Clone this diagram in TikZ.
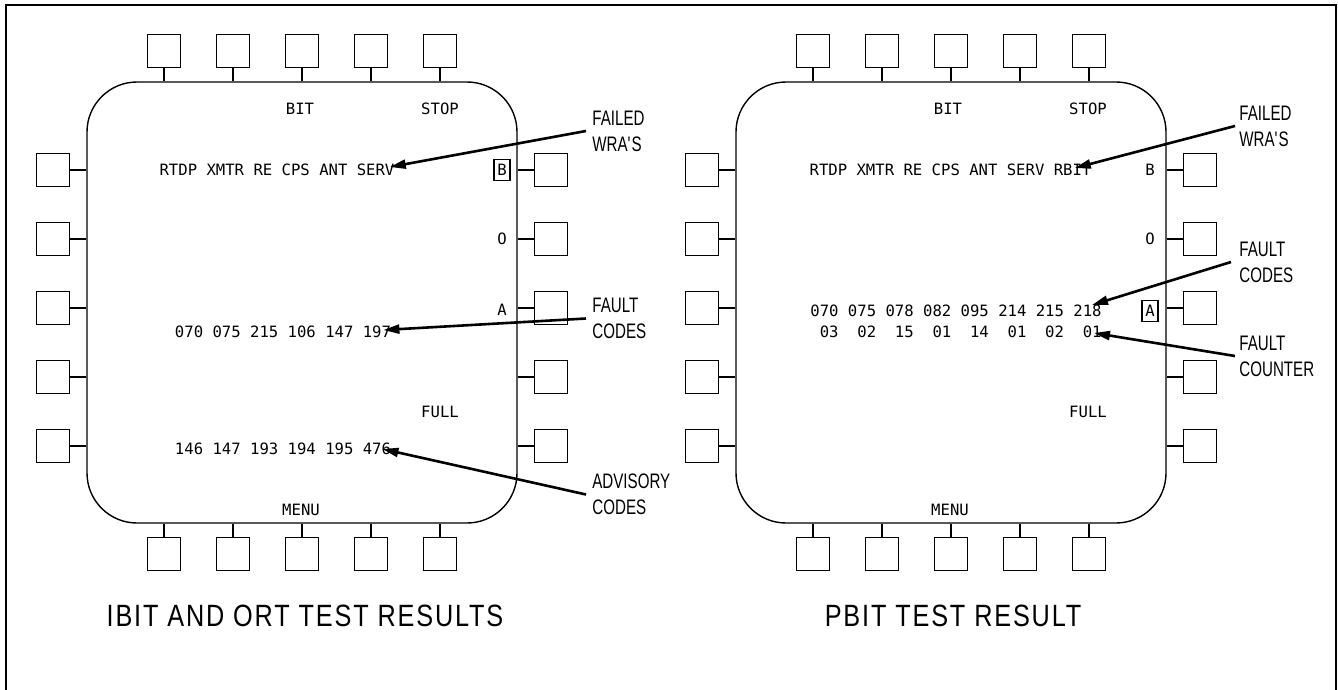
\documentclass[tikz,border=0pt]{standalone}
\usepackage{fontspec}
\usetikzlibrary{arrows.meta,positioning}
\newfontfamily\lblfont{Liberation Sans}[FakeStretch=0.72]
\newfontfamily\ttlfont{Liberation Sans}[FakeStretch=0.82,LetterSpace=6]
\newfontfamily\scrfont{DejaVu Sans Mono}

\begin{document}
\begin{tikzpicture}[
x=0.5pt, y=-0.5pt,
lcd/.style={
draw,
line width=0.7pt,
rounded corners=25pt,
minimum width=215pt,
minimum height=220.5pt,
inner sep=0pt
},
btn/.style={draw, line width=0.6pt, minimum size=16.5pt, inner sep=0pt},
stem/.style={line width=0.6pt},
scr/.style={font=\scrfont\fontsize{7.8}{9}\selectfont, inner sep=0pt},
hot/.style={scr, draw, line width=0.6pt, minimum width=8pt, minimum height=10.5pt},
callout/.style={
font=\lblfont\fontsize{10.5}{13}\selectfont,
align=left,
anchor=west,
inner sep=0pt
},
pointer/.style={-{Triangle[length=8pt,width=4.5pt]}, line width=1.3pt},
caption/.style={font=\ttlfont\fontsize{15.4}{18}\selectfont, inner sep=0pt}
]
\useasboundingbox (0,0) rectangle (1338,690);

% sheet border
\draw[line width=1.2pt] (6,690) |- (1336,5) -- (1336,690);

% the two displays
\node[lcd] (lcdL) at (302,302.5) {};
\node[lcd] (lcdR) at (951,302.5) {};

% bezel keys
\foreach \d/\cx in {L/302,R/951}{
  \foreach \i/\dx in {1/-138,2/-69,3/0,4/69,5/138}{
    \node[btn] (top\d\i) at (\cx+\dx,51) {};
    \draw[stem] (top\d\i.south) -- (top\d\i.south |- lcd\d.north);
    \node[btn] (bot\d\i) at (\cx+\dx,554) {};
    \draw[stem] (bot\d\i.north) -- (bot\d\i.north |- lcd\d.south);
  }
  \foreach \i/\y in {1/170,2/239,3/308,4/377,5/446}{
    \node[btn] (lft\d\i) at (\cx-249,\y) {};
    \draw[stem] (lft\d\i.east) -- (lft\d\i.east -| lcd\d.west);
    \node[btn] (rgt\d\i) at (\cx+249,\y) {};
    \draw[stem] (rgt\d\i.west) -- (rgt\d\i.west -| lcd\d.east);
  }
}

% left display: IBIT / ORT
\node[scr] (bitL) at (300,109) {BIT};
\node[scr] (stopL) at (440,109) {STOP};
\node[scr] (wraL) at (277,170) {RTDP XMTR RE CPS ANT SERV};
\node[hot] (bL) at (502,170) {B};
\node[scr] (oL) at (502,239) {O};
\node[scr] (aL) at (502,310) {A};
\node[scr] (codesL) at (283,332) {070 075 215 106 147 197};
\node[scr] (fullL) at (440,412) {FULL};
\node[scr] (advL) at (283,449) {146 147 193 194 195 476};
\node[scr] (menuL) at (301,510) {MENU};

\node[callout] (failL) at (592,131) {FAILED\\WRA\textquotesingle S};
\node[callout] (faultL) at (592,318.5) {FAULT\\CODES};
\node[callout] (advisL) at (592,494.5) {ADVISORY\\CODES};

\draw[pointer] ([xshift=-3pt]failL.west) -- ([xshift=-2.5pt,yshift=1.5pt]wraL.east);
\draw[pointer] ([xshift=-3pt]faultL.west) -- ([xshift=-4pt,yshift=1pt]codesL.east);
\draw[pointer] ([xshift=-3pt]advisL.west) -- ([xshift=-4.5pt]advL.east);

\node[caption] (titleL) at (305,616) {IBIT AND ORT TEST RESULTS};

% right display: PBIT
\node[scr] (bitR) at (948,109) {BIT};
\node[scr] (stopR) at (1088,109) {STOP};
\node[scr] (wraR) at (950.5,170) {RTDP XMTR RE CPS ANT SERV RBIT};
\node[scr] (bR) at (1150,170) {B};
\node[scr] (oR) at (1150,239) {O};
\node[hot] (aR) at (1150,311) {A};
\node[scr] (codesR) at (956,311) {070 075 078 082 095 214 215 218};
\node[scr] (cntR) at (960.7,332) {03~~02~~15~~01~~14~~01~~02~~01};
\node[scr] (fullR) at (1088,412) {FULL};
\node[scr] (menuR) at (950,510) {MENU};

\node[callout] (failR) at (1239,126) {FAILED\\WRA\textquotesingle S};
\node[callout] (faultR) at (1239,262) {FAULT\\CODES};
\node[callout] (countR) at (1239,356) {FAULT\\COUNTER};

\draw[pointer] ([xshift=-2pt]failR.west) -- ([xshift=-8.5pt,yshift=1pt]wraR.east);
\draw[pointer] ([xshift=-4pt]faultR.west) -- ([xshift=-5pt,yshift=3pt]codesR.east);
\draw[pointer] ([xshift=-2pt]countR.west) -- ([xshift=-4pt,yshift=-0.5pt]cntR.east);

\node[caption] (titleR) at (953,616) {PBIT TEST RESULT};

\end{tikzpicture}
\end{document}
